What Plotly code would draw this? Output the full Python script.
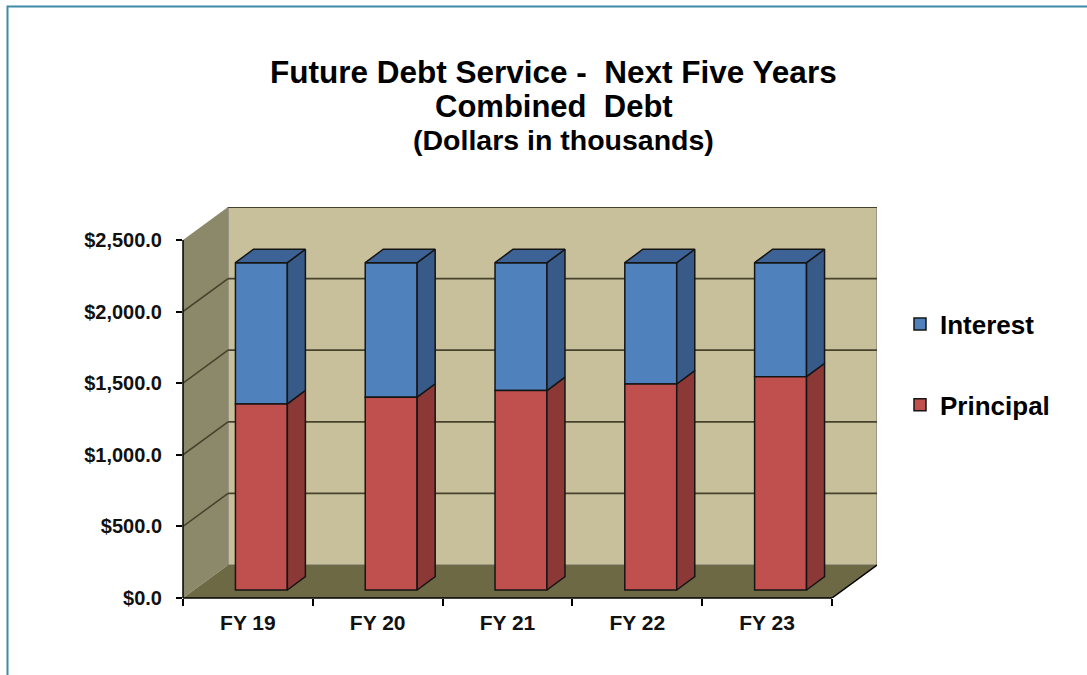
import plotly.graph_objects as go

# ---- data ----
categories = ["FY 19", "FY 20", "FY 21", "FY 22", "FY 23"]
principal = [1299, 1346, 1392, 1438, 1489]
interest = [986, 939, 893, 847, 796]
y_ticks = [0, 500, 1000, 1500, 2000, 2500]

# ---- pseudo-3D geometry (in axis units) ----
WALL_DX = 0.347      # depth of the box along x (category units)
WALL_DY = 230        # depth of the box along y (value units)
Y_MAX = 2500 + WALL_DY
X_MIN, X_MAX = -0.5, len(categories) - 0.5 + WALL_DX
BAR_SHIFT = 0.104    # bar front face offset from category centre
BAR_HALF = 0.20
BAR_BASE = 56        # bar front bottom (sits on floor)
SIDE_DX = 0.139
SIDE_DY = 94

FONT = "Liberation Sans, Arial, sans-serif"
BLUE, BLUE_SIDE, BLUE_TOP = "#4F81BD", "#375A88", "#3C6296"
RED, RED_SIDE = "#C0504D", "#8C3836"
BACK_WALL, SIDE_WALL, FLOOR = "#C8C09B", "#8C886A", "#6D6944"
GRID = "#46422C"
EDGE = "#151515"

fig = go.Figure()

xs = [i + BAR_SHIFT for i in range(len(categories))]
base_int = [BAR_BASE + p for p in principal]

# front faces (legend entries)
fig.add_trace(go.Bar(name="Interest", x=xs, y=interest, base=base_int, width=2 * BAR_HALF,
                     marker=dict(color=BLUE, line=dict(color=EDGE, width=1.5)),
                     legendgroup="int", hoverinfo="skip"))
fig.add_trace(go.Bar(name="Principal", x=xs, y=principal, base=[BAR_BASE] * len(xs), width=2 * BAR_HALF,
                     marker=dict(color=RED, line=dict(color=EDGE, width=1.5)),
                     legendgroup="pri", hoverinfo="skip"))


def side_faces(lows, highs):
    px, py = [], []
    for x, lo, hi in zip(xs, lows, highs):
        r = x + BAR_HALF
        px += [r, r + SIDE_DX, r + SIDE_DX, r, r, None]
        py += [lo, lo + SIDE_DY, hi + SIDE_DY, hi, lo, None]
    return px, py


def top_faces(tops):
    px, py = [], []
    for x, t in zip(xs, tops):
        l, r = x - BAR_HALF, x + BAR_HALF
        px += [l, l + SIDE_DX, r + SIDE_DX, r, l, None]
        py += [t, t + SIDE_DY, t + SIDE_DY, t, t, None]
    return px, py


tops = [b + v for b, v in zip(base_int, interest)]
for lows, highs, col in [([BAR_BASE] * len(xs), base_int, RED_SIDE), (base_int, tops, BLUE_SIDE)]:
    sx, sy = side_faces(lows, highs)
    fig.add_trace(go.Scatter(x=sx, y=sy, mode="lines", fill="toself", fillcolor=col,
                             line=dict(color=EDGE, width=1.5), showlegend=False, hoverinfo="skip"))
tx, ty = top_faces(tops)
fig.add_trace(go.Scatter(x=tx, y=ty, mode="lines", fill="toself", fillcolor=BLUE_TOP,
                         line=dict(color=EDGE, width=1.5), showlegend=False, hoverinfo="skip"))

# ---- walls, floor, gridlines ----
bx0 = X_MIN + WALL_DX
shapes = []
shapes.append(dict(type="rect", xref="x", yref="y", x0=bx0, x1=X_MAX, y0=WALL_DY, y1=Y_MAX,
                   fillcolor=BACK_WALL, line=dict(color="#8C8A80", width=1.5), layer="below"))
shapes.append(dict(type="path", xref="x", yref="y",
                   path=f"M {X_MIN},0 L {X_MIN},2500 L {bx0},{Y_MAX} L {bx0},{WALL_DY} Z",
                   fillcolor=SIDE_WALL, line=dict(width=0), layer="below"))
shapes.append(dict(type="path", xref="x", yref="y",
                   path=f"M {X_MIN},0 L {len(categories)-0.5},0 L {X_MAX},{WALL_DY} L {bx0},{WALL_DY} Z",
                   fillcolor=FLOOR, line=dict(width=0), layer="below"))
for v in y_ticks[1:]:
    shapes.append(dict(type="line", xref="x", yref="y", x0=bx0, x1=X_MAX, y0=v + WALL_DY, y1=v + WALL_DY,
                       line=dict(color=GRID, width=1.8), layer="below"))
    if v < 2500:
        shapes.append(dict(type="line", xref="x", yref="y", x0=X_MIN, x1=bx0, y0=v, y1=v + WALL_DY,
                           line=dict(color=GRID, width=1.5), layer="below"))
# value axis line (front edge of side wall)
shapes.append(dict(type="line", xref="paper", yref="y", x0=0, x1=0, y0=0, y1=2500,
                   line=dict(color="black", width=1.5)))
# category axis line (front edge of floor) and floor right edge
shapes.append(dict(type="line", xref="x", yref="paper", x0=X_MIN, x1=len(categories) - 0.5, y0=0, y1=0,
                   line=dict(color="black", width=1.5)))
shapes.append(dict(type="line", xref="x", yref="y", x0=len(categories) - 0.5, x1=X_MAX, y0=0, y1=WALL_DY,
                   line=dict(color="black", width=1.5)))

# frame around the picture (left and top edges)
def px_x(p):
    return (p - 183) / 694


def px_y(p):
    return (598 - p) / 391


shapes.append(dict(type="path", xref="paper", yref="paper",
                   path=f"M {px_x(7.5)},{px_y(676)} L {px_x(7.5)},{px_y(6.5)} L {px_x(1088)},{px_y(6.5)}",
                   line=dict(color="#3F8AA6", width=2)))

# ---- titles ----
annotations = [
    dict(text="Future Debt Service -\u00a0 Next Five Years", x=px_x(553), y=px_y(72), size=31.5),
    dict(text="Combined\u00a0 Debt", x=px_x(554), y=px_y(106), size=31),
    dict(text="(Dollars in thousands)", x=px_x(563), y=px_y(140), size=28.5),
]
ann = [dict(text=a["text"], x=a["x"], y=a["y"], xref="paper", yref="paper", showarrow=False,
            xanchor="center", yanchor="middle",
            font=dict(family=FONT, size=a["size"], color="black", weight="bold")) for a in annotations]

fig.update_layout(
    width=1087, height=675, autosize=False,
    margin=dict(l=183, r=210, t=207, b=77),
    paper_bgcolor="white", plot_bgcolor="white",
    barmode="overlay",
    shapes=shapes, annotations=ann,
    showlegend=True,
    legend=dict(x=px_x(900), y=px_y(364.5), xanchor="left", yanchor="middle",
                font=dict(family=FONT, size=26, color="black", weight="bold"),
                tracegroupgap=44, bgcolor="rgba(0,0,0,0)"),
    xaxis=dict(range=[X_MIN, X_MAX], tickmode="array", tickvals=list(range(len(categories))),
               ticktext=categories, ticks="outside", ticklen=0, showgrid=False, zeroline=False,
               showline=False, ticklabelstandoff=6,
               tickfont=dict(family=FONT, size=21, color="#111111", weight="bold"),
               minor=dict(tickmode="array", tickvals=[i - 0.5 for i in range(len(categories) + 1)],
                          ticks="outside", ticklen=7, tickcolor="black", tickwidth=1.5, showgrid=False)),
    yaxis=dict(range=[0, Y_MAX], tickmode="array", tickvals=y_ticks, tickformat="$,.1f",
               ticks="outside", ticklen=6, tickcolor="black", tickwidth=1.5,
               showgrid=False, zeroline=False, showline=False, ticklabelstandoff=10,
               tickfont=dict(family=FONT, size=20, color="#111111", weight="bold")),
)

fig.write_html("out.html")
